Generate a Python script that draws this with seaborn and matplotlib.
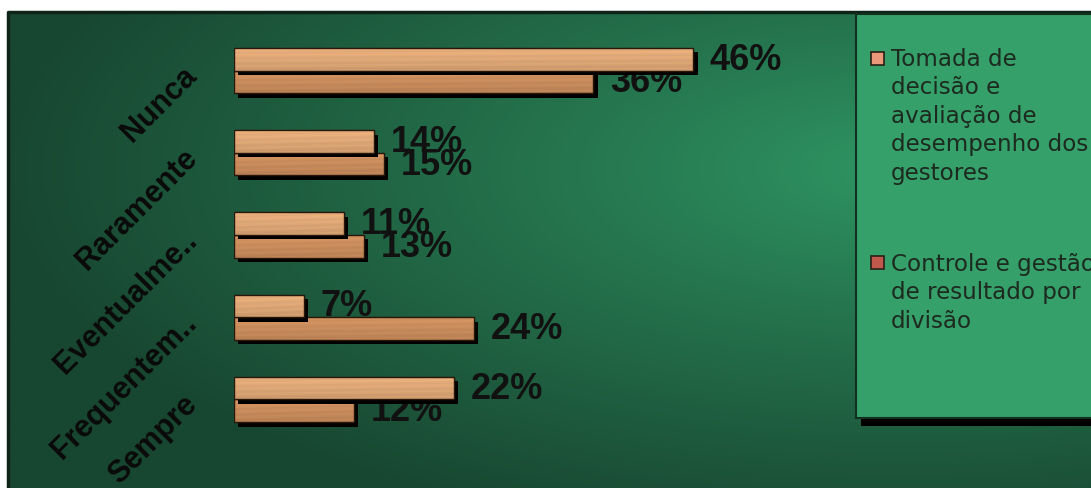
import numpy as np
import pandas as pd
import matplotlib
matplotlib.use("Agg")
import matplotlib.pyplot as plt
import matplotlib.colors as mcolors
from matplotlib import patheffects as pe
from matplotlib.patches import Rectangle
import seaborn as sns

# ---- data ----
categorias = ["Nunca", "Raramente", "Eventualme..", "Frequentem..", "Sempre"]
tomada = [46, 14, 11, 7, 22]
controle = [36, 15, 13, 24, 12]
serie_nomes = ["Tomada de decisão e avaliação de desempenho dos gestores",
               "Controle e gestão de resultado por divisão"]
legenda_linhas = [["Tomada de", "decisão e", "avaliação de", "desempenho dos", "gestores"],
                  ["Controle e gestão", "de resultado por", "divisão"]]

df = pd.DataFrame({
    "categoria": categorias * 2,
    "valor": tomada + controle,
    "serie": [serie_nomes[0]] * len(categorias) + [serie_nomes[1]] * len(categorias),
})

sns.set_theme(style="white")
plt.rcParams["font.family"] = ["Liberation Sans", "DejaVu Sans"]

W, H = 1091, 489
fig = plt.figure(figsize=(W / 100, H / 100), dpi=100, facecolor="white")

# ---- background panel with radial gradient ----
bg = fig.add_axes([8 / W, 0, 1 - 8 / W, 476 / H], zorder=-2)
xs = np.linspace(8, 1091, 540)
ys = np.linspace(13, 489, 240)
X, Y = np.meshgrid(xs, ys)
d = np.sqrt(((X - 900) / 900) ** 2 + ((Y - 170) / 380) ** 2)
d = np.clip(d, 0, 1) ** 0.9
inner = np.array(mcolors.to_rgb("#2f9663"))
outer = np.array(mcolors.to_rgb("#184731"))
img = inner + (outer - inner) * d[..., None]
bg.imshow(img, aspect="auto", extent=[0, 1, 0, 1], origin="upper")
bg.plot([0, 0, 1], [0, 1, 1], color="#0e2418", lw=2.5, transform=bg.transAxes, clip_on=False)
bg.axis("off")

# ---- main axes ----
ax = fig.add_axes([234 / W, (H - 441.6) / H, 600 / W, 411.2 / H])
ax.patch.set_alpha(0)
c1, c2 = "#dea776", "#c98c5c"
sns.barplot(data=df, x="valor", y="categoria", hue="serie", orient="h",
            palette=[c1, c2], width=0.55, saturation=1, ax=ax, legend=False,
            edgecolor="#2a170b", linewidth=0.8)

# wood-like shading overlay (style only)
ty = np.linspace(0, 1, 24)[:, None]
tx = np.linspace(0, 1, 240)[None, :]
shade = (1.06 - 0.13 * ty
         + 0.025 * np.sin(2 * np.pi * (4.0 * ty + 0.6 * tx))
         + 0.018 * np.sin(2 * np.pi * (9.0 * ty - 1.1 * tx)))

shadow = [pe.SimplePatchShadow(offset=(3.2, -3.2), shadow_rgbFace="black", alpha=1.0), pe.Normal()]
for i, cont in enumerate(ax.containers):
    base = np.array(mcolors.to_rgb([c1, c2][i]))
    tex = np.clip(base[None, None, :] * shade[..., None], 0, 1)
    for p in cont:
        p.set_path_effects(shadow)
        z = 2.2 - 0.2 * i
        p.set_zorder(z)
        x0, y0 = p.get_x(), p.get_y()
        w, h = p.get_width(), p.get_height()
        im = ax.imshow(tex, extent=(x0, x0 + w, y0 + h, y0), origin="upper",
                       aspect="auto", zorder=z + 0.05, interpolation="bilinear")
        im.set_clip_path(p)
        ax.add_patch(Rectangle((x0, y0), w, h, fill=False, edgecolor="#2a170b",
                               lw=1.0, zorder=z + 0.08))
    ax.bar_label(cont, labels=[f"{int(v)}%" for v in cont.datavalues], padding=12,
                 fontsize=26, fontweight="bold", color="#111111", zorder=1)

ax.set_xlim(0, 60.1)
ax.set_ylim(4.5, -0.5)
ax.set_aspect("auto")
ax.set_xticks([])
ax.set_xlabel("")
ax.set_ylabel("")
for s in ax.spines.values():
    s.set_visible(False)
ax.tick_params(axis="y", length=0, pad=30, labelsize=22)
for lbl in ax.get_yticklabels():
    lbl.set(rotation=45, ha="right", va="center", rotation_mode="anchor",
            fontweight="bold", color="#0a0a0a")

# ---- legend box ----
fig.patches.append(Rectangle((861 / W, 1 - 427 / H), 300 / W, 404 / H, transform=fig.transFigure,
                             facecolor="black", edgecolor="none", zorder=1))
fig.patches.append(Rectangle((856 / W, 1 - 419 / H), 300 / W, 404 / H, transform=fig.transFigure,
                             facecolor="#36a06a", edgecolor="#12301f", lw=1.5, zorder=2))
marker_cols = ["#ea9a7b", "#c0594b"]
marker_top = [53, 257]
first_baseline = [66, 271]
line_step = 28.5
for k in range(2):
    fig.patches.append(Rectangle((871 / W, 1 - (marker_top[k] + 13) / H), 13 / W, 13 / H,
                                 transform=fig.transFigure, facecolor=marker_cols[k],
                                 edgecolor="#2a2018", lw=1.2, zorder=3))
    for j, linha in enumerate(legenda_linhas[k]):
        yb = first_baseline[k] + j * line_step
        fig.text(891 / W, 1 - yb / H, linha, ha="left", va="baseline",
                 fontsize=16.6, family="DejaVu Sans", color="#1c2a1f", zorder=4)

fig.savefig("out.png", dpi=100, facecolor="white")
